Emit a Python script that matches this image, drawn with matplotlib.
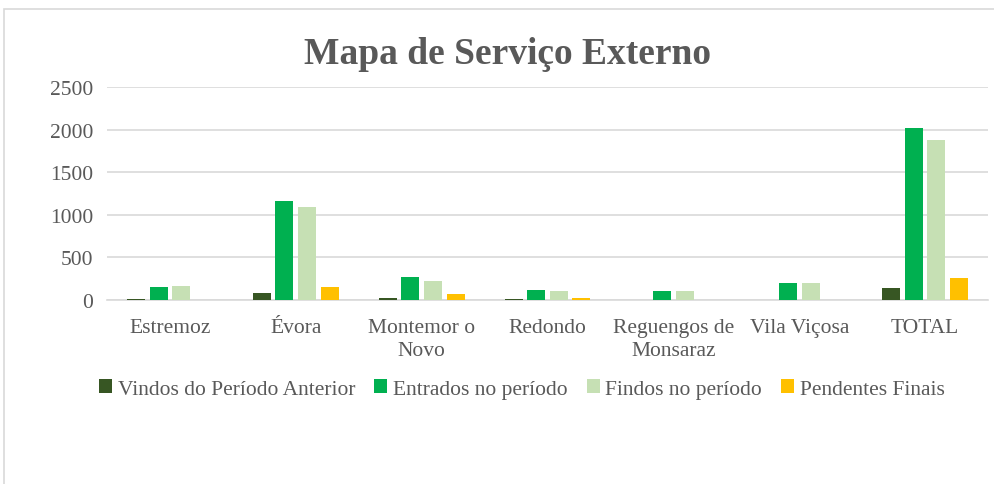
import numpy as np
import matplotlib.pyplot as plt
from matplotlib.patches import Rectangle

categories = ['Estremoz', 'Évora', 'Montemor o\nNovo', 'Redondo',
              'Reguengos de\nMonsaraz', 'Vila Viçosa', 'TOTAL']
vindos = [8, 82, 20, 8, 3, 5, 137]
entrados = [150, 1163, 266, 114, 110, 200, 2020]
findos = [161, 1092, 220, 102, 102, 200, 1880]
pendentes = [3, 157, 67, 20, 5, 5, 262]

series = [
    ('Vindos do Período Anterior', vindos, '#375623'),
    ('Entrados no período', entrados, '#00B050'),
    ('Findos no período', findos, '#C6E0B4'),
    ('Pendentes Finais', pendentes, '#FFC000'),
]

plt.rcParams['font.family'] = ['Liberation Serif', 'DejaVu Serif']

fig = plt.figure(figsize=(9.94, 4.85), dpi=100)
# outer chart frame (cut off at the right and bottom)
fig.patches.append(Rectangle((4 / 994, -0.1), 1.2, 1 - 10 / 485 + 0.1,
                             transform=fig.transFigure, fill=False,
                             edgecolor='#D9D9D9', linewidth=1.2))

ax = fig.add_axes([0.1076, 0.3794, 0.8864, 0.4392])
x = np.arange(len(categories))
step = 0.18
width = 0.143
for i, (name, vals, color) in enumerate(series):
    ax.bar(x + (i - 1.5) * step, vals, width, color=color, label=name, zorder=3)

ax.set_xlim(-0.5, len(categories) - 0.5)
ax.set_ylim(0, 2500)
ax.set_yticks(range(0, 2501, 500))
ax.set_xticks(x)
ax.set_xticklabels(categories, fontsize=15.5, color='#595959', linespacing=1.25)
ax.tick_params(axis='y', labelsize=15.5, labelcolor='#595959', length=0, pad=10)
ax.tick_params(axis='x', length=0, pad=13)
ax.yaxis.grid(True, color='#D9D9D9', linewidth=1.2, zorder=0)
for s in ['top', 'right', 'left']:
    ax.spines[s].set_visible(False)
ax.spines['bottom'].set_color('#D9D9D9')
ax.spines['bottom'].set_linewidth(1.2)

fig.text(0.511, 0.888, 'Mapa de Serviço Externo', ha='center', va='center',
         fontsize=27, fontweight='bold', color='#595959')

fig.legend(loc='center', bbox_to_anchor=(0.525, 0.196), ncol=4, frameon=False,
           fontsize=15.5, handlelength=0.6, handleheight=0.6, handletextpad=0.25,
           columnspacing=0.9, labelcolor='#595959')

fig.savefig('out.png', dpi=100)
